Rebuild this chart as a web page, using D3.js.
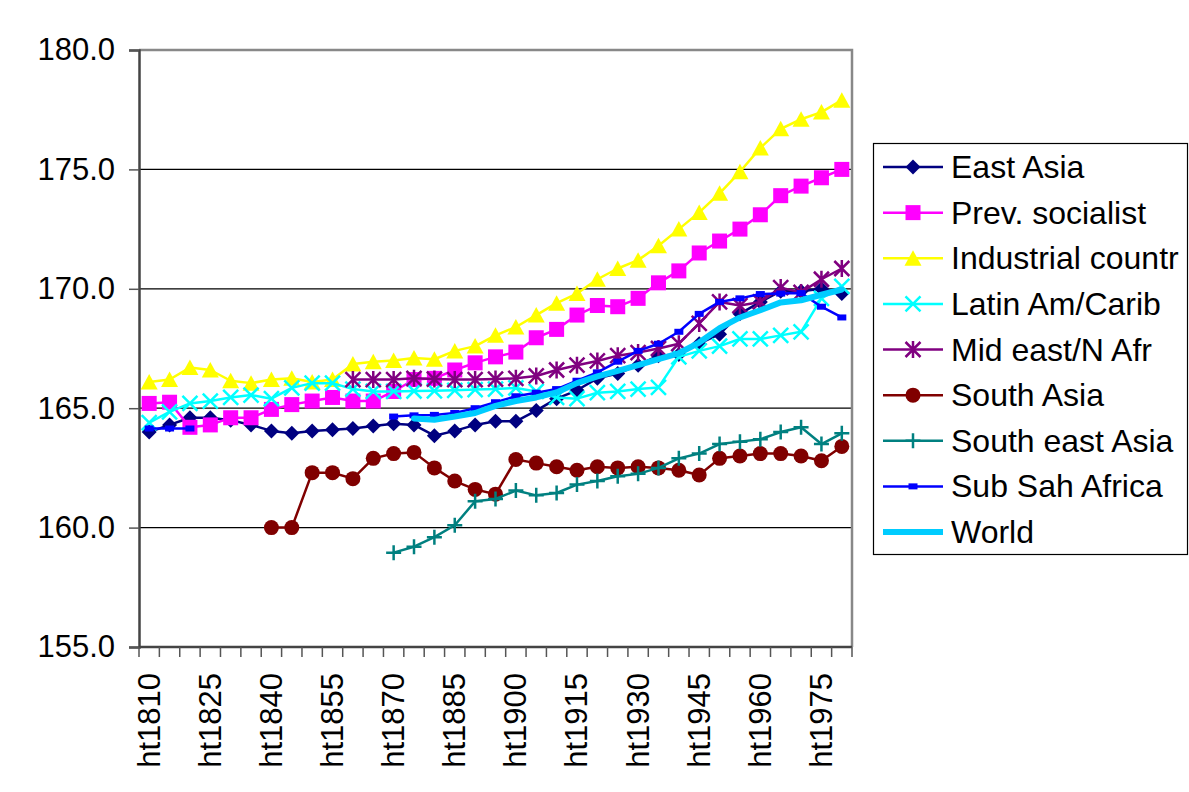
<!DOCTYPE html>
<html>
<head>
<meta charset="utf-8">
<script src="https://cdn.jsdelivr.net/npm/d3@7"></script>
<style>
  html, body { margin: 0; padding: 0; background: #fff; }
  svg { display: block; }
  text { font-family: "Liberation Sans", Arial, sans-serif; fill: #000; }
</style>
</head>
<body>
<svg id="chart" width="1189" height="792"></svg>
<script>
// Average heights (cm) by region, five-year cohorts 1810-1980
const years = d3.range(1810, 1981, 5);
const categories = years.map(y => "ht" + y);
const tickLabels = categories.filter((c, i) => i % 3 === 0);
const yTicks = [155, 160, 165, 170, 175, 180];

const eastAsia = [164.0, 164.3, 164.6, 164.6, 164.5, 164.3, 164.05, 163.95, 164.05, 164.1,
  164.15, 164.25, 164.35, 164.3, 163.85, 164.05, 164.3, 164.45, 164.45, 164.9,
  165.4, 165.75, 166.25, 166.45, 166.8, 167.2, 167.25, 167.7, 168.1, 168.95,
  169.45, 169.9, 169.9, 170.0, 169.8];
const prevSocialist = [165.2, 165.25, 164.2, 164.3, 164.6, 164.6, 164.95, 165.15, 165.3, 165.45,
  165.3, 165.3, 165.7, 166.2, 166.25, 166.6, 166.9, 167.15, 167.35, 167.95,
  168.3, 168.9, 169.3, 169.25, 169.6, 170.25, 170.75, 171.5, 172.0, 172.5,
  173.1, 173.9, 174.3, 174.65, 175.0];
const industrial = [166.1, 166.2, 166.7, 166.6, 166.15, 166.05, 166.2, 166.25, 166.1, 166.2,
  166.85, 166.95, 167.0, 167.1, 167.05, 167.4, 167.6, 168.05, 168.4, 168.9,
  169.4, 169.8, 170.4, 170.85, 171.2, 171.8, 172.5, 173.2, 174.0, 174.9,
  175.9, 176.7, 177.1, 177.4, 177.9];
const latinAm = [164.4, 164.85, 165.2, 165.3, 165.45, 165.55, 165.4, 165.85, 166.05, 166.05,
  165.8, 165.7, 165.7, 165.72, 165.73, 165.75, 165.78, 165.8, 165.85, 165.7,
  165.45, 165.4, 165.65, 165.7, 165.8, 165.87, 167.15, 167.4, 167.6, 167.9,
  167.9, 168.05, 168.2, 169.6, 170.1];
const midEast = [null, null, null, null, null, null, null, null, null, null,
  166.2, 166.2, 166.2, 166.25, 166.22, 166.2, 166.2, 166.22, 166.25, 166.35,
  166.6, 166.8, 166.98, 167.2, 167.33, 167.5, 167.7, 168.55, 169.45, 169.3,
  169.45, 170.05, 169.85, 170.4, 170.85];
const southAsia = [null, null, null, null, null, null, 160.0, 160.0, 162.3, 162.3,
  162.05, 162.9, 163.1, 163.15, 162.5, 161.95, 161.6, 161.4, 162.85, 162.7,
  162.55, 162.4, 162.55, 162.5, 162.55, 162.5, 162.4, 162.2, 162.9, 163.0,
  163.1, 163.1, 163.0, 162.8, 163.4];
const seAsia = [null, null, null, null, null, null, null, null, null, null,
  null, null, 158.95, 159.2, 159.6, 160.1, 161.1, 161.2, 161.55, 161.35,
  161.45, 161.8, 161.95, 162.15, 162.25, 162.5, 162.9, 163.1, 163.5, 163.6,
  163.7, 164.0, 164.2, 163.5, 163.95];
const subSahara = [164.15, 164.15, 164.15, null, null, null, null, null, null, null,
  null, null, 164.65, 164.7, 164.72, 164.8, 165.0, 165.25, 165.5, 165.65,
  165.8, 166.15, 166.5, 166.95, 167.4, 167.7, 168.2, 168.95, 169.45, 169.6,
  169.78, 169.8, 169.82, 169.25, 168.8];
const world = [null, null, null, null, null, null, null, null, null, null,
  null, null, null, 164.57, 164.52, 164.65, 164.8, 165.1, 165.3, 165.45,
  165.66, 166.05, 166.33, 166.56, 166.8, 167.05, 167.3, 167.75, 168.35, 168.8,
  169.1, 169.43, 169.52, 169.75, 169.97];

const seriesNames = ["East Asia", "Prev. socialist", "Industrial countr", "Latin Am/Carib",
  "Mid east/N Afr", "South Asia", "South east Asia", "Sub Sah Africa", "World"];
const seriesValues = [eastAsia, prevSocialist, industrial, latinAm, midEast, southAsia, seAsia, subSahara, world];
const seriesColors = ["#000080", "#FF00FF", "#FFFF00", "#00FFFF", "#800080", "#800000", "#008080", "#0000FF", "#00CCFF"];
const seriesMarkers = ["diamond", "square", "triangle", "x", "asterisk", "circle", "plus", "dash", "none"];

const series = seriesNames.map((name, k) => ({
  name, color: seriesColors[k], marker: seriesMarkers[k],
  width: name === "World" ? 6 : 2.5,
  values: seriesValues[k].map((v, i) => ({ cat: categories[i], v }))
}));

const svg = d3.select("#chart");
const plot = { left: 139, right: 852, top: 50, bottom: 647 };

const x = d3.scaleBand().domain(categories).range([plot.left, plot.right]).padding(0);
const y = d3.scaleLinear().domain([155, 180]).range([plot.bottom, plot.top]);
const cx = c => x(c) + x.bandwidth() / 2;

// gridlines
svg.append("g").selectAll("line").data(yTicks.filter(t => t > 155 && t < 180)).join("line")
  .attr("x1", plot.left).attr("x2", plot.right)
  .attr("y1", d => y(d)).attr("y2", d => y(d))
  .attr("stroke", "#000").attr("stroke-width", 1.2);

// plot area border (top and right)
svg.append("path")
  .attr("d", `M${plot.left},${plot.top}H${plot.right}V${plot.bottom}`)
  .attr("fill", "none").attr("stroke", "#888").attr("stroke-width", 2.5);

// y axis
const yAxis = svg.append("g").attr("transform", `translate(${plot.left},0)`)
  .call(d3.axisLeft(y).tickValues(yTicks).tickSize(10).tickPadding(14).tickFormat(d3.format(".1f")));
yAxis.select(".domain").attr("stroke", "#444").attr("stroke-width", 2.5);
yAxis.selectAll(".tick line").attr("stroke", "#555").attr("stroke-width", 1.5);
yAxis.selectAll(".tick text").attr("font-size", 31).attr("font-family", "Liberation Sans, Arial, sans-serif").attr("fill", "#000");

// x axis: ticks between categories
const xAxisG = svg.append("g");
xAxisG.append("line").attr("x1", plot.left).attr("x2", plot.right)
  .attr("y1", plot.bottom).attr("y2", plot.bottom)
  .attr("stroke", "#444").attr("stroke-width", 2.5);
const boundaries = categories.map(c => x(c)).concat([x(categories[categories.length - 1]) + x.bandwidth()]);
xAxisG.selectAll("line.tk").data(boundaries).join("line").attr("class", "tk")
  .attr("x1", d => d).attr("x2", d => d)
  .attr("y1", plot.bottom).attr("y2", plot.bottom + 10)
  .attr("stroke", "#555").attr("stroke-width", 1.5);
xAxisG.selectAll("text").data(tickLabels).join("text")
  .attr("transform", d => `translate(${cx(d)},${plot.bottom + 26}) rotate(-90)`)
  .attr("text-anchor", "end").attr("dominant-baseline", "central")
  .attr("font-size", 31).text(d => d);

// marker shapes
function drawMarker(g, type, color) {
  const s = 7.5;
  switch (type) {
    case "diamond":
      g.append("path").attr("d", `M0,${-s}L${s},0L0,${s}L${-s},0Z`).attr("fill", color); break;
    case "square":
      g.append("rect").attr("x", -s).attr("y", -s).attr("width", 2 * s).attr("height", 2 * s).attr("fill", color); break;
    case "triangle":
      g.append("path").attr("d", `M0,${-s - 0.5}L${s + 1},${s}L${-s - 1},${s}Z`).attr("fill", color); break;
    case "circle":
      g.append("circle").attr("r", s).attr("fill", color); break;
    case "x":
      g.append("path").attr("d", `M${-s},${-s}L${s},${s}M${-s},${s}L${s},${-s}`)
        .attr("stroke", color).attr("stroke-width", 2.5).attr("fill", "none"); break;
    case "asterisk":
      g.append("path").attr("d", `M${-s},${-s}L${s},${s}M${-s},${s}L${s},${-s}M0,${-s - 1}L0,${s + 1}`)
        .attr("stroke", color).attr("stroke-width", 2.5).attr("fill", "none"); break;
    case "plus":
      g.append("path").attr("d", `M${-s},0L${s},0M0,${-s}L0,${s}`)
        .attr("stroke", color).attr("stroke-width", 2.5).attr("fill", "none"); break;
    case "dash":
      g.append("rect").attr("x", -4.5).attr("y", -3).attr("width", 9).attr("height", 6).attr("fill", color); break;
  }
}

const line = d3.line()
  .defined(d => d.v != null)
  .x(d => cx(d.cat)).y(d => y(d.v));

const seriesG = svg.append("g");
series.forEach(s => {
  const g = seriesG.append("g");
  g.append("path").datum(s.values).attr("d", line)
    .attr("fill", "none").attr("stroke", s.color).attr("stroke-width", s.width)
    .attr("stroke-linejoin", "round").attr("stroke-linecap", "round");
  if (s.marker !== "none") {
    g.selectAll("g.m").data(s.values.filter(d => d.v != null)).join("g").attr("class", "m")
      .attr("transform", d => `translate(${cx(d.cat)},${y(d.v)})`)
      .each(function () { drawMarker(d3.select(this), s.marker, s.color); });
  }
});

// legend
const legend = svg.append("g");
legend.append("rect").attr("x", 873.5).attr("y", 143.5).attr("width", 314).attr("height", 411)
  .attr("fill", "#fff").attr("stroke", "#000").attr("stroke-width", 1.2);
const rowY = d3.scalePoint().domain(seriesNames).range([167, 532]);
series.forEach(s => {
  const row = legend.append("g").attr("transform", `translate(0,${rowY(s.name)})`);
  row.append("line").attr("x1", 883).attr("x2", 943).attr("y1", 0).attr("y2", 0)
    .attr("stroke", s.color).attr("stroke-width", s.width);
  if (s.marker !== "none") drawMarker(row.append("g").attr("transform", "translate(913,0)"), s.marker, s.color);
  row.append("text").attr("x", 951).attr("y", 0).attr("dominant-baseline", "central")
    .attr("font-size", 32).text(s.name);
});
</script>
</body>
</html>
